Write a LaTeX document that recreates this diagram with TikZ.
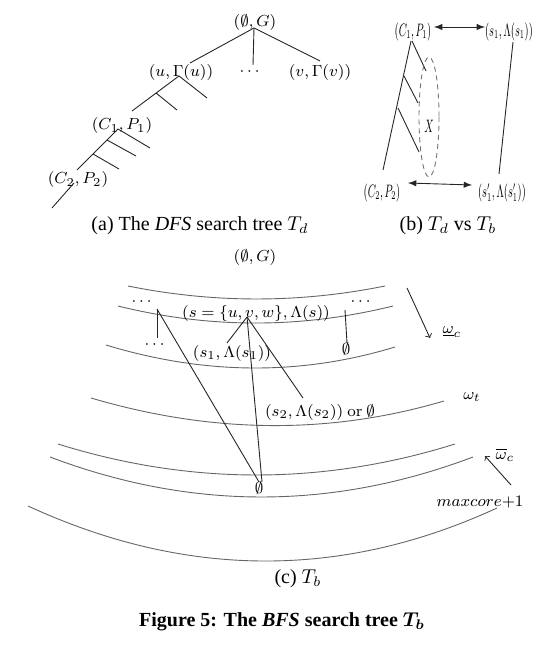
\documentclass[tikz,border=0pt]{standalone}
\usepackage{amsmath}
\usepackage{amssymb}
\usepackage[no-math]{fontspec}
\setmainfont{Liberation Serif}
\usepackage{tikz}
\usetikzlibrary{shapes,arrows}

\tikzset{
  lbl/.style={inner sep=0.75pt, font=\footnotesize},
  nlbl/.style={inner sep=0.75pt, font=\small},
  captxt/.style={inner sep=0.75pt, font=\normalsize},
  layer/.style={draw=black!60, line width=0.45pt},
  edge/.style={draw=black!85, line width=0.45pt},
}
\newcommand{\nrw}[1]{\scalebox{0.57}[1]{#1}}

\begin{document}
\begin{tikzpicture}[x=0.5pt,y=0.5pt,yscale=-1,xscale=1]
\useasboundingbox (0,0) rectangle (555,646);

%%%%% (a) the DFS tree
% Text Node
\node[lbl] (rootA) at (255,23) {$(\emptyset,G)$};
% Text Node
\node[lbl] (uA) at (181,73) {$(u,\Gamma(u))$};
% Text Node
\node[lbl] (dotsA) at (251,72) {$\cdots$};
% Text Node
\node[lbl] (vA) at (320,73) {$(v,\Gamma(v))$};
% Text Node
\node[lbl] (c1A) at (122,126) {$(C_1,P_1)$};
% Text Node
\node[lbl] (c2A) at (78,180) {$(C_2,P_2)$};

\coordinate (jA0) at (254,28);
\coordinate (jA1) at (179,76);
\coordinate (kA1) at (156,93);
\coordinate (jA2) at (118,129);
\coordinate (kA2) at (107,140);
\coordinate (mA2) at (93,154);
\coordinate (jA3) at (74,183);
\coordinate (eA1) at (190,63);
\coordinate (eA2) at (253,65);
\coordinate (eA3) at (320,61);
\coordinate (eA4) at (132,111);
\coordinate (eA5) at (177,110);
\coordinate (eA6) at (207,98);
\coordinate (eA7) at (77,170);
\coordinate (eA8) at (150,148);
\coordinate (eA9) at (136,156);
\coordinate (eA10) at (119,169);
\coordinate (eA11) at (52,208);

%Straight Lines
\draw[edge] (jA0) -- (eA1) ;
\draw[edge] (jA0) -- (eA2) ;
\draw[edge] (jA0) -- (eA3) ;
%Straight Lines
\draw[edge] (jA1) -- (eA4) ;
\draw[edge] (kA1) -- (eA5) ;
\draw[edge] (jA1) -- (eA6) ;
%Straight Lines
\draw[edge] (jA2) -- (eA7) ;
\draw[edge] (jA2) -- (eA8) ;
\draw[edge] (kA2) -- (eA9) ;
\draw[edge] (mA2) -- (eA10) ;
\draw[edge] (jA3) -- (eA11) ;

% Text Node
\node[captxt] (capA) at (200,226) {(a) The \textit{DFS} search tree $T_d$};

%%%%% (b) Td vs Tb
% Text Node
\node[nlbl] (c1B) at (413,32) {\nrw{$(C_1,P_1)$}};
% Text Node
\node[nlbl] (s1B) at (509,32) {\nrw{$(s_1,\Lambda(s_1))$}};
% Text Node
\node[nlbl] (c2B) at (382,193) {\nrw{$(C_2,P_2)$}};
% Text Node
\node[nlbl] (s1pB) at (502,193) {\nrw{$(s_1',\Lambda(s_1'))$}};
% Text Node
\node[nlbl] (xB) at (429,126) {\nrw{$X$}};

\coordinate (aB1) at (434,27);
\coordinate (aB2) at (485,27);
\coordinate (aB3) at (408,183);
\coordinate (aB4) at (472,185);
\coordinate (jB1) at (411,41);
\coordinate (eB1) at (383,170);
\coordinate (jB2) at (412,41);
\coordinate (eB2) at (426,71);
\coordinate (kB1) at (404,76);
\coordinate (eB3) at (418,103);
\coordinate (kB2) at (398,108);
\coordinate (eB4) at (419,152);
\coordinate (jB3) at (513,42);
\coordinate (eB5) at (499,174);

%Straight Lines
\draw[edge, latex-latex] (aB1) -- (aB2) ;
\draw[edge, latex-latex] (aB3) -- (aB4) ;
\draw[edge] (jB1) -- (eB1) ;
\draw[edge] (jB2) -- (eB2) ;
\draw[edge] (kB1) -- (eB3) ;
\draw[edge] (kB2) -- (eB4) ;
\draw[edge] (jB3) -- (eB5) ;
%Shape: Ellipse
\draw[draw=black!55, line width=0.45pt, dash pattern={on 2.5pt off 2pt}] (429,117) ellipse (10 and 60) ;

% Text Node
\node[captxt] (capB) at (448,226) {(b) $T_d$ vs $T_b$};

%%%%% (c) the BFS tree
%Curve Lines
\draw[layer] (128,286) .. controls (213.7,303.3) and (299.3,303.3) .. (385,286) ;
\draw[layer] (118,306) .. controls (209.7,328.7) and (301.3,328.7) .. (393,306) ;
\draw[layer] (106,345) .. controls (202.3,374.3) and (298.7,376.3) .. (395,347) ;
\draw[layer] (91,398) .. controls (208.7,432.7) and (326.3,435.7) .. (444,401) ;
\draw[layer] (58,444) .. controls (190.3,485.3) and (322.7,485.3) .. (455,444) ;
\draw[layer] (50,457) .. controls (191,510.3) and (332,510.3) .. (473,457) ;
\draw[layer] (28,506) .. controls (184.3,578) and (340.7,580) .. (497,508) ;

% Text Node
\node[lbl] (rootC) at (255,258) {$(\emptyset,G)$};
% Text Node
\node[lbl] (sC) at (256,313) {$(s=\{u,v,w\},\Lambda(s))$};
% Text Node
\node[lbl] (dl1C) at (143,302) {$\cdots$};
% Text Node
\node[lbl] (dl2C) at (156,345) {$\cdots$};
% Text Node
\node[lbl] (dr1C) at (362,302) {$\cdots$};
% Text Node
\node[lbl] (s1C) at (232,353) {$(s_1,\Lambda(s_1))$};
% Text Node
\node[lbl] (s2C) at (320,412) {$(s_2,\Lambda(s_2))\ \mathrm{or}\ \emptyset$};
% Text Node
\node[lbl] (erC) at (346,349) {$\emptyset$};
% Text Node
\node[lbl] (ebC) at (259,488) {$\emptyset$};
% Text Node
\node[lbl] (wcC) at (452,332) {$\underline{\omega}_c$};
% Text Node
\node[lbl] (wtC) at (472,397) {$\omega_t$};
% Text Node
\node[lbl] (wbC) at (505,455) {$\overline{\omega}_c$};
% Text Node
\node[lbl] (mcC) at (480,502) {$maxcore{+}1$};

\coordinate (jC1) at (247,317);
\coordinate (eC1) at (227,343);
\coordinate (eC2) at (303,398);
\coordinate (eC3) at (262,482);
\coordinate (jC2) at (157,309);
\coordinate (eC4) at (157,338);
\coordinate (eC5) at (259,482);
\coordinate (jC3) at (345,310);
\coordinate (eC6) at (347,343);
\coordinate (aC1) at (407,288);
\coordinate (aC2) at (430,338);
\coordinate (aC3) at (511,485);
\coordinate (aC4) at (485,456);

%Straight Lines
\draw[edge] (jC1) -- (eC1) ;
\draw[edge] (jC1) -- (eC2) ;
\draw[edge] (jC1) -- (eC3) ;
\draw[edge] (jC2) -- (eC4) ;
\draw[edge] (jC2) -- (eC5) ;
\draw[edge] (jC3) -- (eC6) ;
\draw[edge, ->] (aC1) -- (aC2) ;
\draw[edge, ->] (aC3) -- (aC4) ;

% Text Node
\node[captxt] (capC) at (298,579) {(c) $T_b$};
% Text Node
\node[captxt] (capF) at (282,622) {\textbf{Figure 5: The \textit{BFS} search tree $\boldsymbol{T_b}$}};

\end{tikzpicture}
\end{document}
